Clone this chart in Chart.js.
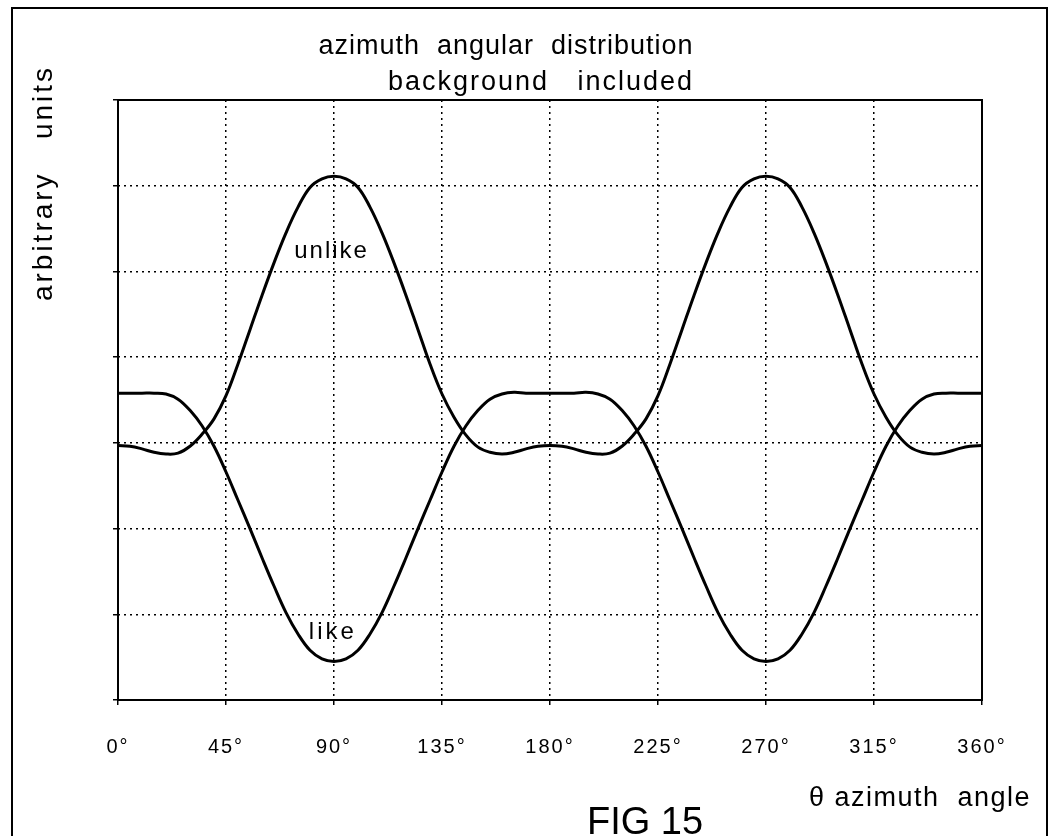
<!DOCTYPE html>
<html>
<head>
<meta charset="utf-8">
<script src="https://cdn.jsdelivr.net/npm/chart.js@4.4.1/dist/chart.umd.min.js"></script>
<style>
  html, body { margin: 0; padding: 0; background: #fff; }
  canvas { display: block; }
</style>
</head>
<body>
<canvas id="chart" width="1059" height="836"></canvas>
<script>
// Angles in degrees (x axis)
const angles = [
    0, 5, 10, 15, 20, 25, 30, 35, 40, 45, 50, 55, 60, 65, 70, 75, 80, 85, 90,
    95, 100, 105, 110, 115, 120, 125, 130, 135, 140, 145, 150, 155, 160, 165, 170, 175, 180,
    185, 190, 195, 200, 205, 210, 215, 220, 225, 230, 235, 240, 245, 250, 255, 260, 265, 270,
    275, 280, 285, 290, 295, 300, 305, 310, 315, 320, 325, 330, 335, 340, 345, 350, 355, 360
];

// "unlike" curve, arbitrary units
const unlikeValues = [
    2.97, 2.96, 2.93, 2.89, 2.87, 2.88, 2.96, 3.10, 3.28, 3.55, 3.92, 4.32, 4.72, 5.10, 5.45, 5.75, 5.98, 6.08, 6.11,
    6.08, 5.98, 5.75, 5.45, 5.10, 4.72, 4.32, 3.92, 3.57, 3.30, 3.09, 2.95, 2.89, 2.87, 2.89, 2.93, 2.96, 2.97,
    2.96, 2.93, 2.89, 2.87, 2.88, 2.96, 3.10, 3.28, 3.55, 3.92, 4.32, 4.72, 5.10, 5.45, 5.75, 5.98, 6.08, 6.11,
    6.08, 5.98, 5.75, 5.45, 5.10, 4.72, 4.32, 3.92, 3.57, 3.30, 3.09, 2.95, 2.89, 2.87, 2.89, 2.93, 2.96, 2.97
];

// "like" curve, arbitrary units
const likeValues = [
    3.58, 3.58, 3.58, 3.58, 3.57, 3.51, 3.38, 3.20, 2.96, 2.66, 2.33, 2.00, 1.66, 1.33, 1.02, 0.77, 0.58, 0.48, 0.45,
    0.48, 0.58, 0.77, 1.02, 1.33, 1.66, 2.00, 2.33, 2.66, 2.96, 3.20, 3.38, 3.51, 3.57, 3.59, 3.58, 3.58, 3.58,
    3.58, 3.58, 3.59, 3.57, 3.51, 3.38, 3.20, 2.96, 2.66, 2.33, 2.00, 1.66, 1.33, 1.02, 0.77, 0.58, 0.48, 0.45,
    0.48, 0.58, 0.77, 1.02, 1.33, 1.66, 2.00, 2.33, 2.66, 2.96, 3.20, 3.38, 3.51, 3.57, 3.58, 3.58, 3.58, 3.58
];

// Curve labels, in data units
const curveLabels = [
    { text: 'unlike', x: 89, y: 5.23, spacing: '2px' },
    { text: 'like', x: 89.5, y: 0.79, spacing: '3px' }
];

const FONT = '"Liberation Sans", Arial, sans-serif';

const toPoints = (vals) => angles.map((a, i) => ({ x: a, y: vals[i] }));

// Draws the frame, titles, plot box and curve labels
const figurePlugin = {
    id: 'figure',
    beforeDraw(chart) {
        chart.ctx.letterSpacing = '2px';
    },
    afterDraw(chart) {
        const ctx = chart.ctx;
        const area = chart.chartArea;
        const xs = chart.scales.x, ys = chart.scales.y;
        ctx.save();
        ctx.fillStyle = '#000';
        ctx.strokeStyle = '#000';

        // outer frame
        ctx.lineWidth = 2;
        ctx.strokeRect(12, 8, 1035, 900);

        // plot box
        ctx.strokeRect(area.left, area.top, area.right - area.left, area.bottom - area.top);

        ctx.textAlign = 'center';
        ctx.textBaseline = 'alphabetic';
        ctx.font = '27px ' + FONT;
        ctx.letterSpacing = '1px';
        ctx.fillText('azimuth  angular  distribution', 506, 54);
        ctx.letterSpacing = '2px';
        ctx.fillText('background   included', 541, 90);

        // y axis title
        ctx.save();
        ctx.font = '28px ' + FONT;
        ctx.letterSpacing = '3px';
        ctx.translate(52, 183);
        ctx.rotate(-Math.PI / 2);
        ctx.fillText('arbitrary   units', 0, 0);
        ctx.restore();

        // x axis title
        ctx.textAlign = 'right';
        ctx.font = '27px ' + FONT;
        ctx.letterSpacing = '1.5px';
        ctx.fillText('\u03B8 azimuth  angle', 1031, 806);

        // figure number
        ctx.textAlign = 'center';
        ctx.letterSpacing = '0px';
        ctx.font = '38px ' + FONT;
        ctx.fillText('FIG 15', 645, 834);

        // curve labels
        ctx.font = '24px ' + FONT;
        ctx.textBaseline = 'middle';
        curveLabels.forEach(l => {
            ctx.letterSpacing = l.spacing;
            ctx.fillText(l.text, xs.getPixelForValue(l.x), ys.getPixelForValue(l.y));
        });
        ctx.restore();
    }
};

new Chart(document.getElementById('chart'), {
    type: 'line',
    data: {
        datasets: [
            {
                label: 'unlike',
                data: toPoints(unlikeValues),
                borderColor: '#000',
                borderWidth: 3,
                pointRadius: 0,
                tension: 0.4,
                fill: false
            },
            {
                label: 'like',
                data: toPoints(likeValues),
                borderColor: '#000',
                borderWidth: 3,
                pointRadius: 0,
                tension: 0.4,
                fill: false
            }
        ]
    },
    options: {
        responsive: false,
        animation: false,
        layout: { padding: { left: 113, top: 100, right: 77, bottom: 36 } },
        plugins: {
            legend: { display: false },
            title: { display: false },
            tooltip: { enabled: false }
        },
        scales: {
            x: {
                type: 'linear',
                min: 0,
                max: 360,
                ticks: {
                    stepSize: 45,
                    autoSkip: false,
                    maxRotation: 0,
                    padding: 30,
                    color: '#000',
                    font: { family: FONT, size: 20 },
                    callback: (v) => v + '\u00B0'
                },
                grid: {
                    color: '#000',
                    lineWidth: 1.5,
                    drawTicks: true,
                    tickLength: 5,
                    tickColor: '#000',
                    tickBorderDash: []
                },
                border: { display: false, dash: [2, 4] },
                afterFit: (s) => { s.height = 100; }
            },
            y: {
                min: 0,
                max: 7,
                ticks: { display: false, stepSize: 1 },
                grid: {
                    color: '#000',
                    lineWidth: 1.5,
                    drawTicks: true,
                    tickLength: 5,
                    tickColor: '#000',
                    tickBorderDash: []
                },
                border: { display: false, dash: [2, 4] },
                afterFit: (s) => { s.width = 5; }
            }
        }
    },
    plugins: [figurePlugin]
});
</script>
</body>
</html>
